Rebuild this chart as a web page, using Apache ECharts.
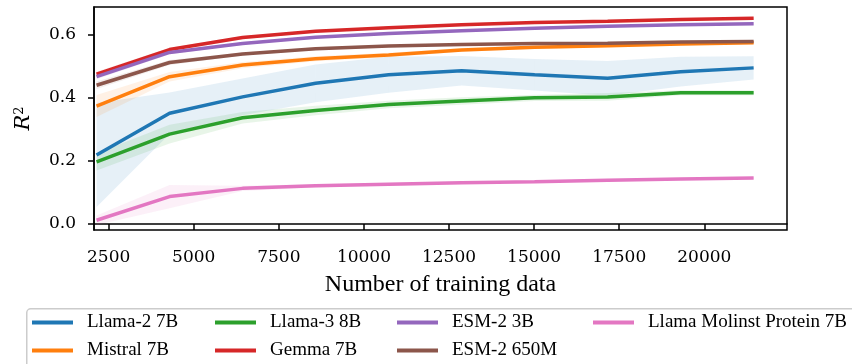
<!DOCTYPE html>
<html>
<head>
<meta charset="utf-8">
<script src="https://cdn.jsdelivr.net/npm/echarts@6/dist/echarts.min.js"></script>
<style>html,body{margin:0;padding:0;background:#fff}#c{width:852px;height:364px}</style>
</head>
<body>
<div id="c"></div>
<script>
// ---- data ----
const trainSizes = [2145, 4290, 6435, 8580, 10725, 12870, 15015, 17160, 19305, 21450];
const xTicks = [2500, 5000, 7500, 10000, 12500, 15000, 17500, 20000];
const yTicks = [0.0, 0.2, 0.4, 0.6];

const llama2 = [0.219, 0.351, 0.403, 0.446, 0.473, 0.486, 0.473, 0.462, 0.483, 0.495];
const llama2Ci = [0.165, 0.066, 0.058, 0.060, 0.057, 0.047, 0.050, 0.055, 0.047, 0.037];
const mistral = [0.374, 0.467, 0.504, 0.524, 0.536, 0.552, 0.560, 0.565, 0.571, 0.575];
const mistralCi = [0.035, 0.015, 0.010, 0.008, 0.007, 0.006, 0.005, 0.005, 0.004, 0.004];
const llama3 = [0.197, 0.285, 0.337, 0.360, 0.379, 0.390, 0.400, 0.403, 0.416, 0.416];
const llama3Ci = [0.027, 0.030, 0.018, 0.015, 0.012, 0.012, 0.010, 0.012, 0.008, 0.008];
const gemma = [0.475, 0.553, 0.591, 0.611, 0.622, 0.632, 0.639, 0.643, 0.648, 0.652];
const gemmaCi = [0.008, 0.006, 0.005, 0.004, 0.004, 0.004, 0.003, 0.003, 0.003, 0.003];
const esm3b = [0.467, 0.544, 0.572, 0.592, 0.604, 0.613, 0.621, 0.627, 0.632, 0.635];
const esm3bCi = [0.008, 0.006, 0.004, 0.004, 0.003, 0.003, 0.003, 0.003, 0.003, 0.003];
const esm650m = [0.440, 0.512, 0.539, 0.556, 0.564, 0.569, 0.572, 0.573, 0.577, 0.579];
const esm650mCi = [0.012, 0.008, 0.005, 0.004, 0.004, 0.003, 0.003, 0.003, 0.003, 0.003];
const molinst = [0.012, 0.087, 0.113, 0.121, 0.126, 0.131, 0.134, 0.139, 0.143, 0.146];
const molinstCi = [0.015, 0.037, 0.008, 0.005, 0.004, 0.004, 0.003, 0.003, 0.003, 0.003];

const models = [
  {name: 'Llama-2 7B', mean: llama2, ci: llama2Ci, color: '#1f77b4'},
  {name: 'Mistral 7B', mean: mistral, ci: mistralCi, color: '#ff7f0e'},
  {name: 'Llama-3 8B', mean: llama3, ci: llama3Ci, color: '#2ca02c'},
  {name: 'Gemma 7B', mean: gemma, ci: gemmaCi, color: '#d62728'},
  {name: 'ESM-2 3B', mean: esm3b, ci: esm3bCi, color: '#9467bd'},
  {name: 'ESM-2 650M', mean: esm650m, ci: esm650mCi, color: '#8c564b'},
  {name: 'Llama Molinst Protein 7B', mean: molinst, ci: molinstCi, color: '#e377c2'}
];
const legendColumns = [
  ['Llama-2 7B', 'Mistral 7B'],
  ['Llama-3 8B', 'Gemma 7B'],
  ['ESM-2 3B', 'ESM-2 650M'],
  ['Llama Molinst Protein 7B']
];
const legendLefts = [32, 215, 397, 593];

// ---- build ----
const series = [];
models.forEach((m) => {
  // band as quads between consecutive points: [x0, lo0, hi0, x1, lo1, hi1]
  const segs = [];
  for (let k = 0; k < trainSizes.length - 1; k++) {
    segs.push([trainSizes[k], m.mean[k] - m.ci[k], m.mean[k] + m.ci[k],
               trainSizes[k + 1], m.mean[k + 1] - m.ci[k + 1], m.mean[k + 1] + m.ci[k + 1]]);
  }
  series.push({
    type: 'custom', name: m.name + ' band', silent: true, z: 1,
    encode: {x: [0, 3], y: [1, 2, 4, 5]},
    data: segs,
    renderItem: (params, api) => {
      const a = api.coord([api.value(0), api.value(1)]);
      const b = api.coord([api.value(0), api.value(2)]);
      const c = api.coord([api.value(3), api.value(5)]);
      const d = api.coord([api.value(3), api.value(4)]);
      return {
        type: 'polygon',
        shape: {points: [a, b, c, d]},
        style: {fill: m.color, opacity: 0.11, stroke: null}
      };
    }
  });
});
models.forEach((m) => {
  series.push({
    type: 'line', name: m.name, z: 3, symbol: 'none',
    color: m.color,
    lineStyle: {color: m.color, width: 3.5},
    data: trainSizes.map((x, k) => [x, m.mean[k]])
  });
});

const legends = legendColumns.map((col, i) => ({
  orient: 'vertical', left: legendLefts[i], top: 313,
  data: col, icon: 'rect', itemWidth: 41, itemHeight: 4, itemGap: 9,
  padding: 0,
  textStyle: {fontFamily: 'Liberation Serif', fontSize: 19, color: '#000', lineHeight: 19, padding: [0, 0, 0, 9]}
}));

const chart = echarts.init(document.getElementById('c'), null, {renderer: 'canvas'});
chart.setOption({
  animation: false,
  backgroundColor: '#fff',
  grid: {left: 94, right: 65, top: 7, bottom: 134, show: true, borderColor: '#000', borderWidth: 1.5, backgroundColor: 'transparent'},
  graphic: [{
    type: 'rect', left: 26, top: 308, z: -1,
    shape: {width: 860, height: 80, r: 4},
    style: {fill: '#fff', stroke: '#cccccc', lineWidth: 1.5}
  }],
  legend: legends,
  xAxis: {
    type: 'value', min: 2070, max: 22430,
    name: 'Number of training data', nameLocation: 'middle', nameGap: 43,
    nameTextStyle: {fontFamily: 'Liberation Serif', fontSize: 24, color: '#000'},
    axisLine: {show: true, lineStyle: {color: '#000', width: 1.5}},
    axisTick: {show: true, length: 6, lineStyle: {color: '#000', width: 1.5}, customValues: xTicks},
    axisLabel: {customValues: xTicks, margin: 19, fontFamily: 'DejaVu Serif', fontSize: 17, color: '#000', formatter: v => String(v)},
    splitLine: {show: false}
  },
  yAxis: {
    type: 'value', min: -0.019, max: 0.688,
    name: '{r|R}{s|2}', nameLocation: 'middle', nameGap: 60, nameRotate: 90,
    nameTextStyle: {
      color: '#000',
      rich: {
        r: {fontFamily: 'DejaVu Serif', fontStyle: 'italic', fontSize: 21, color: '#000', verticalAlign: 'bottom'},
        s: {fontFamily: 'DejaVu Serif', fontSize: 13, color: '#000', verticalAlign: 'top', padding: [0, 0, 8, 0]}
      }
    },
    axisLine: {show: true, lineStyle: {color: '#000', width: 1.5}},
    axisTick: {show: true, length: 6, lineStyle: {color: '#000', width: 1.5}, customValues: yTicks},
    axisLabel: {customValues: yTicks, margin: 18, fontFamily: 'DejaVu Serif', fontSize: 17, color: '#000', formatter: v => v.toFixed(1)},
    splitLine: {show: false}
  },
  series: series
});
</script>
</body>
</html>
